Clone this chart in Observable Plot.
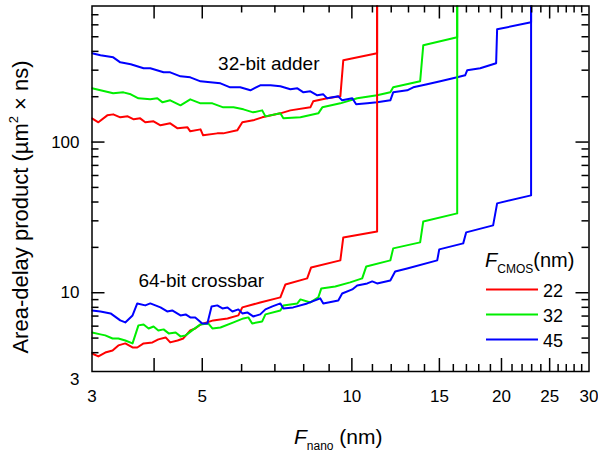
<!DOCTYPE html>
<html><head><meta charset="utf-8">
<script src="https://cdn.jsdelivr.net/npm/d3@7"></script>
<script src="https://cdn.jsdelivr.net/npm/@observablehq/plot@0.6"></script>
<style>body{margin:0;background:#fff;} svg{display:block}</style>
</head><body><div id="chart"></div>
<script>
// ---- data (F_nano in nm, area-delay product in um^2 x ns) ----
const adder22 = [[3.0,143.7],[3.09,135.2],[3.22,150.4],[3.31,152.7],[3.42,145.9],[3.54,148.1],[3.64,141.5],[3.75,143.7],[3.84,135.2],[3.99,137.3],[4.12,129.1],[4.31,133.1],[4.46,123.3],[4.67,125.2],[4.73,117.8],[4.96,121.4],[5.02,110.8],[5.36,114.2],[5.51,114.2],[5.88,119.6],[6.02,135.2],[6.33,139.4],[6.60,145.9],[7.18,155.1],[7.52,162.3],[8.25,170.0],[8.36,186.3],[8.92,195.1],[9.48,201.1],[9.61,348.7],[11.24,388.1],[11.24,1000]];
const adder32 = [[3.0,227.3],[3.12,220.5],[3.31,210.6],[3.47,213.8],[3.59,207.4],[3.72,195.1],[3.93,192.1],[4.06,195.1],[4.16,183.5],[4.31,189.2],[4.52,175.3],[4.73,192.1],[4.96,180.7],[5.24,180.7],[5.51,170.0],[5.78,170.0],[6.05,164.9],[6.33,157.5],[6.60,162.3],[6.70,148.1],[7.18,155.1],[7.28,143.7],[7.88,145.9],[8.56,155.1],[8.72,170.0],[9.48,180.7],[10.25,195.1],[11.24,204.2],[11.95,213.8],[12.11,230.8],[13.72,253.0],[13.92,438.6],[16.29,495.7],[16.29,1000]];
const adder45 = [[3.0,388.1],[3.12,376.4],[3.31,365.1],[3.42,338.2],[3.59,328.1],[3.81,308.6],[3.93,308.6],[4.18,290.3],[4.31,290.3],[4.52,273.1],[4.73,268.9],[4.96,253.0],[5.19,249.2],[5.44,245.4],[5.69,230.8],[5.96,230.8],[6.25,220.5],[6.54,238.0],[6.86,238.0],[7.18,234.4],[7.52,223.9],[7.77,227.3],[7.99,213.8],[8.25,217.1],[8.52,204.2],[8.76,207.4],[8.92,195.1],[9.39,201.1],[9.56,189.2],[10.02,195.1],[10.2,178.0],[10.74,180.7],[11.24,183.5],[11.95,189.2],[12.11,213.8],[12.92,220.5],[13.29,230.8],[14.17,241.7],[15.06,253.0],[16.29,268.9],[16.90,277.3],[17.06,299.3],[18.12,308.6],[19.51,333.1],[19.60,560.3],[22.94,623.5],[22.94,1000]];
const crossbar22 = [[3.0,3.95],[3.09,3.78],[3.19,4.01],[3.30,4.14],[3.39,4.47],[3.50,4.61],[3.62,4.33],[3.70,4.33],[3.81,4.61],[3.97,4.68],[4.08,4.90],[4.22,5.05],[4.31,4.68],[4.46,4.82],[4.58,4.97],[4.73,5.62],[4.84,5.79],[4.96,6.16],[5.26,6.55],[5.62,6.75],[5.91,7.07],[6.02,7.99],[6.54,8.62],[7.18,9.31],[7.35,11.35],[8.13,12.45],[8.28,14.72],[9.48,16.39],[9.61,23.29],[11.24,25.53],[11.24,1000]];
const crossbar32 = [[3.0,5.45],[3.12,5.29],[3.19,5.21],[3.30,4.97],[3.39,4.97],[3.50,4.82],[3.62,4.61],[3.72,6.07],[3.81,6.16],[3.90,5.79],[3.99,5.97],[4.08,5.62],[4.18,5.71],[4.28,5.37],[4.42,5.45],[4.52,5.13],[4.63,5.21],[4.80,5.71],[4.96,6.16],[5.14,6.25],[5.24,5.79],[5.44,5.88],[5.78,6.35],[6.05,6.75],[6.19,6.86],[6.30,6.25],[6.60,6.45],[6.70,7.18],[7.18,7.63],[7.28,8.24],[7.77,8.49],[7.88,9.03],[8.25,8.62],[8.56,9.31],[8.68,10.68],[9.26,11.01],[9.92,11.71],[10.49,12.45],[10.69,14.95],[11.95,16.39],[12.11,19.69],[13.72,21.58],[13.92,29.74],[16.29,33.62],[16.29,1000]];
const crossbar45 = [[3.0,7.63],[3.12,7.51],[3.27,7.29],[3.42,6.55],[3.50,6.35],[3.62,7.07],[3.70,8.49],[3.84,8.24],[3.93,8.49],[4.12,7.99],[4.25,7.51],[4.35,7.63],[4.52,7.07],[4.63,7.18],[4.73,6.86],[4.84,6.86],[5.00,6.25],[5.12,6.25],[5.22,8.11],[5.36,8.24],[5.49,7.87],[5.62,7.99],[5.75,7.51],[5.91,7.75],[6.02,7.29],[6.16,7.40],[6.33,6.96],[6.54,7.18],[6.70,7.75],[6.92,8.11],[7.18,8.49],[7.28,7.87],[7.62,7.99],[8.13,8.49],[8.64,9.17],[8.76,8.49],[9.39,8.89],[9.56,9.89],[10.02,10.52],[10.25,11.18],[10.74,11.53],[10.99,11.89],[11.24,11.53],[11.95,12.07],[12.22,13.85],[12.92,14.50],[14.85,16.39],[14.99,19.39],[16.75,21.26],[16.98,25.14],[19.24,27.99],[19.60,39.17],[22.94,44.28],[22.94,1000]];

const cmosSizes = ["22", "32", "45"];
const cmosColors = ["#ff0000", "#00ee00", "#0000ff"];

const xLabelTicks = [3, 5, 10, 15, 20, 25, 30];
const xMajorTicks = [4, 5, 10, 15, 20, 25];
const xMinorTicks = [6, 7, 8, 9, 11, 12, 13, 14, 16, 17, 18, 19, 21, 22, 23, 24, 26, 27, 28, 29];
const yLabelTicks = [10, 100, 500];
const yCornerLabel = [3];
const yMajorTicks = [10, 100];
const yMinorTicks = [4, 5, 6, 7, 8, 9, 20, 30, 40, 50, 60, 70, 80, 90, 200, 300, 400, 500, 600, 700];

const annotations = [
  {label: "32-bit adder", x: 5.38, y: 328},
  {label: "64-bit crossbar", x: 3.72, y: 11.9}
];

// ---- build table ----
const series = [
  {group: "adder", size: "22", pts: adder22},
  {group: "adder", size: "32", pts: adder32},
  {group: "adder", size: "45", pts: adder45},
  {group: "crossbar", size: "22", pts: crossbar22},
  {group: "crossbar", size: "32", pts: crossbar32},
  {group: "crossbar", size: "45", pts: crossbar45}
];
const rows = series.flatMap(s => s.pts.map(([x, y]) => ({x, y, size: s.size, key: s.group + s.size})));

const W = 598, H = 457;
const mL = 91.5, mR = 9.5, mT = 5.5, mB = 86;
const fw = W - mL - mR, fh = H - mT - mB;
const minorLen = 7, majorLen = 13;
const tickStyle = {stroke: "black", strokeWidth: 1.5};

const plot = Plot.plot({
  width: W, height: H,
  marginLeft: mL, marginRight: mR, marginTop: mT, marginBottom: mB,
  x: {type: "log", domain: [3, 30]},
  y: {type: "log", domain: [3, 800]},
  color: {domain: cmosSizes, range: cmosColors},
  style: {fontFamily: "'Liberation Sans', Arial, sans-serif", fontSize: "17px", background: "white", color: "black"},
  marks: [
    Plot.line(rows, {x: "x", y: "y", z: "key", stroke: "size", strokeWidth: 2, clip: true}),
    // inward ticks on all four sides
    Plot.ruleX(xMinorTicks, {...tickStyle, insetTop: fh - minorLen}),
    Plot.ruleX(xMinorTicks, {...tickStyle, insetBottom: fh - minorLen}),
    Plot.ruleX(xMajorTicks, {...tickStyle, insetTop: fh - majorLen}),
    Plot.ruleX(xMajorTicks, {...tickStyle, insetBottom: fh - majorLen}),
    Plot.ruleY(yMinorTicks, {...tickStyle, insetRight: fw - minorLen}),
    Plot.ruleY(yMinorTicks, {...tickStyle, insetLeft: fw - minorLen}),
    Plot.ruleY(yMajorTicks, {...tickStyle, insetRight: fw - majorLen}),
    Plot.ruleY(yMajorTicks, {...tickStyle, insetLeft: fw - majorLen}),
    Plot.frame({stroke: "black", strokeWidth: 1.5}),
    Plot.axisX({ticks: xLabelTicks, tickSize: 0, tickPadding: 18, fontSize: 17, label: null, tickFormat: d => `${d}`}),
    Plot.axisY({ticks: yLabelTicks, tickSize: 0, tickPadding: 12.5, fontSize: 17, label: null, tickFormat: d => `${d}`}),
    Plot.axisY({ticks: yCornerLabel, tickSize: 0, tickPadding: 12.5, fontSize: 17, label: null, dy: 8, tickFormat: d => `${d}`}),
    Plot.text(annotations, {x: "x", y: "y", text: "label", textAnchor: "start", fontSize: 19, fill: "black"})
  ]
});

const svg = d3.select(plot);
const ff = "'Liberation Sans', Arial, sans-serif";

// y-axis title
const yt = svg.append("text")
  .attr("transform", "translate(28,207) rotate(-90)")
  .attr("text-anchor", "middle").attr("font-family", ff).attr("font-size", 22).attr("fill", "black");
yt.append("tspan").text("Area-delay product (µm");
yt.append("tspan").attr("font-size", 13).attr("dy", -10).text("2");
yt.append("tspan").attr("dy", 10).text(" × ns)");

// x-axis title
const xt = svg.append("text").attr("x", 294).attr("y", 444).attr("text-anchor", "start")
  .attr("font-family", ff).attr("font-size", 21).attr("fill", "black");
xt.append("tspan").attr("font-style", "italic").text("F");
xt.append("tspan").attr("font-size", 12).attr("dy", 6).text("nano");
xt.append("tspan").attr("dy", -6).text(" (nm)");

// legend
const lg = svg.append("g").attr("font-family", ff).attr("fill", "black").attr("text-anchor", "start");
const lh = lg.append("text").attr("x", 485).attr("y", 267).attr("font-size", 20);
lh.append("tspan").attr("font-style", "italic").text("F");
lh.append("tspan").attr("font-size", 12).attr("dy", 6).text("CMOS");
lh.append("tspan").attr("dy", -6).text("(nm)");
cmosSizes.forEach((s, i) => {
  const yy = 289.5 + i * 25;
  lg.append("line").attr("x1", 486).attr("x2", 538).attr("y1", yy).attr("y2", yy)
    .attr("stroke", cmosColors[i]).attr("stroke-width", 2);
  lg.append("text").attr("x", 543).attr("y", yy + 7).attr("font-size", 18).text(s);
});

document.getElementById("chart").appendChild(plot);
</script>
</body></html>
